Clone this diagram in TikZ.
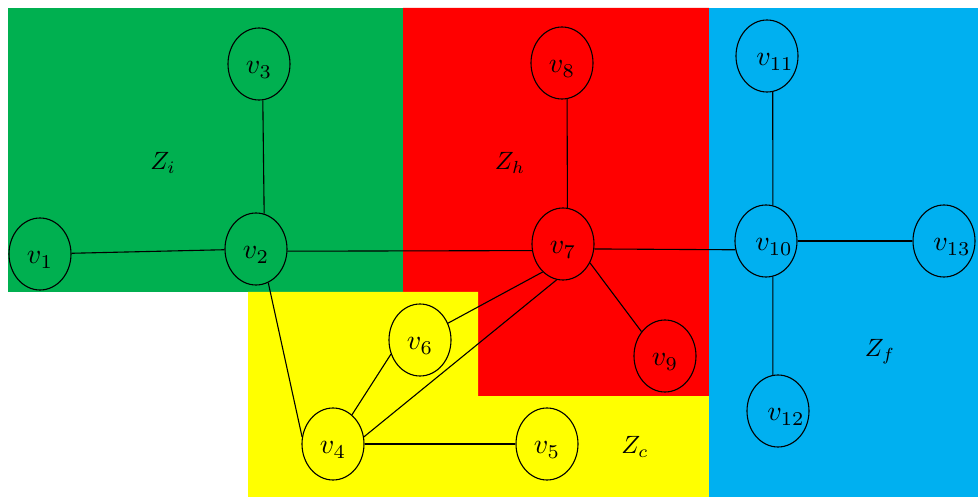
\documentclass[tikz,border=0pt]{standalone}
\usetikzlibrary{shapes.geometric}
\definecolor{zgreen}{RGB}{0,176,80}
\definecolor{zred}{RGB}{255,0,0}
\definecolor{zyellow}{RGB}{255,255,0}
\definecolor{zblue}{RGB}{0,176,240}
\newcommand{\vlab}[1]{\scalebox{2.8}{$#1$}}
\newcommand{\zlab}[1]{\scalebox{2.5}{$#1$}}
\begin{document}
\begin{tikzpicture}[x=1pt,y=-1pt,
  vx/.style={ellipse, draw=black, line width=1.1pt, minimum width=62pt, minimum height=72pt, inner sep=0pt},
  vt/.style={inner sep=0pt, yshift=-6pt},
  vtt/.style={inner sep=0pt, yshift=-6pt, xshift=8pt},
  edge/.style={line width=1.1pt, draw=black},
  zlabel/.style={inner sep=0pt}]
\useasboundingbox (0,0) rectangle (978,497);
\fill[white] (0,0) rectangle (978,497);
\fill[zgreen] (8,8) rectangle (403,292);
\fill[zred] (403,8) -- (709,8) -- (709,396) -- (478,396) -- (478,292) -- (403,292) -- cycle;
\fill[zyellow] (248,292) -- (478,292) -- (478,396) -- (709,396) -- (709,497) -- (248,497) -- cycle;
\fill[zblue] (709,8) rectangle (978,497);

\node[vx, label={[vt]center:\vlab{v_1}}] (v1) at (40,254) {};
\node[vx, label={[vt]center:\vlab{v_2}}] (v2) at (256,249) {};
\node[vx, label={[vt]center:\vlab{v_3}}] (v3) at (259,64) {};
\node[vx, label={[vt]center:\vlab{v_4}}] (v4) at (333,444) {};
\node[vx, label={[vt]center:\vlab{v_5}}] (v5) at (547,444) {};
\node[vx, label={[vt]center:\vlab{v_6}}] (v6) at (420,340) {};
\node[vx, label={[vt]center:\vlab{v_7}}] (v7) at (563,244) {};
\node[vx, label={[vt]center:\vlab{v_8}}] (v8) at (562,63) {};
\node[vx, label={[vt]center:\vlab{v_9}}] (v9) at (665,356) {};
\node[vx, label={[vtt]center:\vlab{v_{10}}}] (v10) at (766,241) {};
\node[vx, label={[vtt]center:\vlab{v_{11}}}] (v11) at (767,56) {};
\node[vx, label={[vtt]center:\vlab{v_{12}}}] (v12) at (778,411) {};
\node[vx, label={[vtt]center:\vlab{v_{13}}}] (v13) at (944,241) {};

\node[zlabel] (zi) at (163,163) {\zlab{Z_i}};
\node[zlabel] (zh) at (510,163) {\zlab{Z_h}};
\node[zlabel] (zc) at (635,447) {\zlab{Z_c}};
\node[zlabel] (zf) at (880,352) {\zlab{Z_f}};

\draw[edge] (v1) -- (v2);
\draw[edge] (v3.-84) -- (v2.77);
\draw[edge] (v2.-70) -- (v4.167);
\draw[edge] (v2.-4) -- (v7.192);
\draw[edge] (v4) -- (v5);
\draw[edge] (v4.57) -- (v6.206);
\draw[edge] (v4.13) -- (v7.260);
\draw[edge] (v6.31) -- (v7.234);
\draw[edge] (v8.-82) -- (v7.83);
\draw[edge] (v7.-35) -- (v9.134);
\draw[edge] (v7.-9) -- (v10.196);
\draw[edge] (v11.-81) -- (v10.79);
\draw[edge] (v10.-79) -- (v12.98);
\draw[edge] (v10) -- (v13);
\end{tikzpicture}
\end{document}
